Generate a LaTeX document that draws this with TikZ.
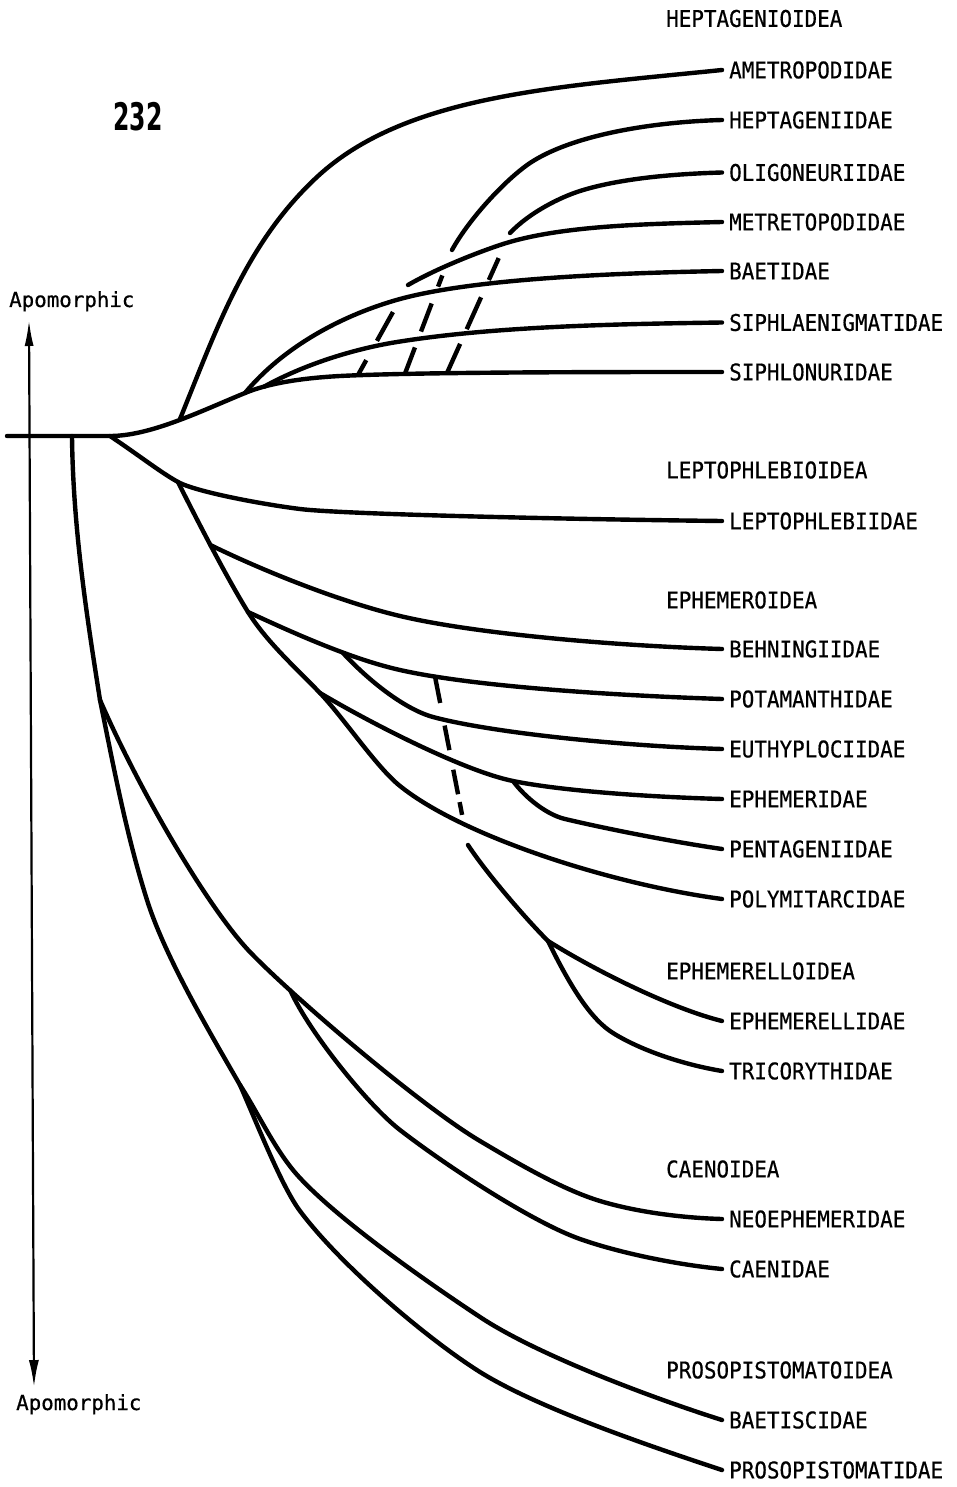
\documentclass[tikz,border=0pt]{standalone}
\usepackage{fontspec}
\usepackage{graphicx}
\usetikzlibrary{arrows.meta}
\newfontfamily\labfont{DejaVu Sans Mono}[FakeBold=0.6]
\newfontfamily\numfont{DejaVu Sans}
\newcommand\tx[1]{\scalebox{1}[1.1]{#1}}
\newcommand\mytaxon[3]{\node[taxon] (#1) at (729,#2) {\tx{#3}}; \coordinate (#1e) at (722,#2);}
\begin{document}
\begin{tikzpicture}[x=1pt,y=-1pt,
  br/.style={line width=4.4pt, line cap=round, line join=round},
  dsh/.style={line width=4.4pt},
  taxon/.style={anchor=west, inner sep=0pt, font=\labfont\fontsize{20.9}{24}\selectfont},
  grp/.style={anchor=west, inner sep=0pt, font=\labfont\fontsize{20.9}{24}\selectfont},
  apo/.style={anchor=base west, inner sep=0pt, font=\labfont\fontsize{20.8}{24}\selectfont},
  axis/.style={line width=2.2pt, {Latex[length=26pt,width=9pt]}-{Latex[length=27pt,width=10pt]}}]
\useasboundingbox (0,0) rectangle (957,1487);

% labels
\node[grp] (g1) at (666,18.5) {\tx{HEPTAGENIOIDEA}};
\mytaxon{amet}{70}{AMETROPODIDAE}
\mytaxon{hept}{120}{HEPTAGENIIDAE}
\mytaxon{olig}{172.5}{OLIGONEURIIDAE}
\mytaxon{metr}{222}{METRETOPODIDAE}
\mytaxon{baet}{271}{BAETIDAE}
\mytaxon{siph}{322.5}{SIPHLAENIGMATIDAE}
\mytaxon{sipn}{372}{SIPHLONURIDAE}
\node[grp] (g2) at (666,470) {\tx{LEPTOPHLEBIOIDEA}};
\mytaxon{lept}{521}{LEPTOPHLEBIIDAE}
\node[grp] (g3) at (666,600) {\tx{EPHEMEROIDEA}};
\mytaxon{behn}{649}{BEHNINGIIDAE}
\mytaxon{pota}{699}{POTAMANTHIDAE}
\mytaxon{euth}{749}{EUTHYPLOCIIDAE}
\mytaxon{ephe}{799}{EPHEMERIDAE}
\mytaxon{pent}{849}{PENTAGENIIDAE}
\mytaxon{poly}{899}{POLYMITARCIDAE}
\node[grp] (g4) at (666,971) {\tx{EPHEMERELLOIDEA}};
\mytaxon{ephl}{1021}{EPHEMERELLIDAE}
\mytaxon{tric}{1071}{TRICORYTHIDAE}
\node[grp] (g5) at (666,1169) {\tx{CAENOIDEA}};
\mytaxon{neoe}{1219}{NEOEPHEMERIDAE}
\mytaxon{caen}{1269}{CAENIDAE}
\node[grp] (g6) at (666,1370) {\tx{PROSOPISTOMATOIDEA}};
\mytaxon{baes}{1420}{BAETISCIDAE}
\mytaxon{pros}{1470}{PROSOPISTOMATIDAE}

\node (fig) at (138,117) {\numfont\bfseries\fontsize{38}{40}\selectfont\scalebox{0.62}[1]{232}};
\node[apo] (apotop) at (9,307) {Apomorphic};
\node[apo] (apobot) at (16,1410) {Apomorphic};

% axis
\coordinate (ax1) at (29,320);
\coordinate (ax2) at (34,1387);
\draw[axis] (ax1) -- (ax2);

% branch points
\coordinate (root0) at (7,436);
\coordinate (root) at (110,436);
\coordinate (h1) at (180,419);
\coordinate (h2) at (245,393);
\coordinate (h3) at (264,386.7);
\coordinate (u1) at (358,375);
\coordinate (u1e) at (408,285);
\coordinate (u2) at (405,373.6);
\coordinate (u2e) at (452,250);
\coordinate (u3) at (447,373);
\coordinate (u3e) at (510,233);
\coordinate (r2) at (72,436);
\coordinate (l1) at (178,482);
\coordinate (e1) at (210.3,545);
\coordinate (e2) at (248,612);
\coordinate (e3) at (343,653);
\coordinate (e4) at (320,693);
\coordinate (e5) at (513,781);
\coordinate (d0) at (435,676.5);
\coordinate (d1) at (468,845);
\coordinate (m1) at (548,941);
\coordinate (c0) at (100,700);
\coordinate (c1) at (290.5,990.7);
\coordinate (p1) at (240,1085);

% Heptagenioidea
\draw[br] (root0) -- (root) .. controls (150,436) and (199,412) .. (h2)
  .. controls (268,383.5) and (300,378.2) .. (340,376)
  .. controls (420,372) and (600,372) .. (sipne);
\draw[br] (h1) .. controls (217,328) and (246,243) .. (317,177)
  .. controls (405,95) and (556,87) .. (amete);
\draw[br] (h2) .. controls (283,347) and (342,315) .. (400,299)
  .. controls (477,278) and (620,273) .. (baete);
\draw[br] (h3) .. controls (303,365) and (353,349) .. (397,342)
  .. controls (496,326) and (620,324) .. (siphe);
\draw[br] (u1e) .. controls (434,270) and (471.5,254.6) .. (500,245)
  .. controls (557,226) and (640,224) .. (metre);
\draw[br] (u2e) .. controls (469,219) and (505,180) .. (530,163)
  .. controls (571.5,135.5) and (650,122) .. (hepte);
\draw[br] (u3e) .. controls (530,212) and (561,197) .. (580,191)
  .. controls (618,179) and (670,174) .. (olige);
\draw[dsh, dash pattern=on 17pt off 22pt on 33pt off 60pt] (u1) -- (u1e);
\draw[dsh, dash pattern=on 28pt off 17pt on 30pt off 18pt on 12pt off 60pt] (u2) -- (u2e);
\draw[dsh, dash pattern=on 32pt off 16pt on 35pt off 19pt on 24pt off 60pt] (u3) -- (u3e);

% Leptophlebioidea + Ephemeroidea
\draw[br] (root) .. controls (140,456) and (160,472) .. (l1)
  .. controls (195,491.5) and (260,504) .. (300,509)
  .. controls (340,514) and (550,519) .. (lepte);
\draw[br] (l1) .. controls (198,522) and (227,578) .. (e2)
  .. controls (266.5,641.75) and (295.8,667.8) .. (e4)
  .. controls (343,717) and (376.6,767.4) .. (400,786)
  .. controls (462,836) and (610,884) .. (polye);
\draw[br] (e1) .. controls (264.6,571.6) and (341.8,602.2) .. (400,616)
  .. controls (477.6,634.4) and (620,646) .. (behne);
\draw[br] (e2) .. controls (293.5,633) and (351,659) .. (400,670)
  .. controls (468,685.4) and (600,695) .. (potae);
\draw[br] (e3) .. controls (368,680) and (404,709) .. (433,717)
  .. controls (491,732.6) and (620,746) .. (euthe);
\draw[br] (e4) .. controls (371.6,723.6) and (464,771) .. (e5)
  .. controls (562,791) and (650,797) .. (ephee);
\draw[br] (e5) .. controls (526,798.6) and (547.5,814.9) .. (565,819)
  .. controls (613.7,830.5) and (680,843) .. (pente);

% Ephemerelloidea
\draw[dsh, dash pattern=on 27pt off 23pt on 25pt off 20pt on 25pt off 8pt on 13pt off 60pt] (d0) -- (d1);
\draw[br] (d1) .. controls (487,874) and (526.7,919.7) .. (m1)
  .. controls (599,972.8) and (673.5,1009) .. (ephle);
\draw[br] (m1) .. controls (572,990) and (591.75,1019.75) .. (613,1033)
  .. controls (638.5,1049) and (680,1064) .. (trice);

% Caenoidea + Prosopistomatoidea
\draw[br] (r2) .. controls (73,530) and (87.6,621) .. (c0)
  .. controls (114,768.6) and (126,833.5) .. (147,900)
  .. controls (165,957) and (210,1032.8) .. (p1)
  .. controls (259,1114.4) and (276,1152.5) .. (300,1178)
  .. controls (341,1222) and (430,1284) .. (480,1317)
  .. controls (538,1355.5) and (655.5,1399) .. (baese);
\draw[br] (c0) .. controls (140,792) and (208.6,908.8) .. (250,952)
  .. controls (291.4,995.2) and (419.8,1105.3) .. (480,1141)
  .. controls (514.4,1161.4) and (561.6,1189.4) .. (600,1201)
  .. controls (638.4,1212.6) and (685,1218) .. (neoee);
\draw[br] (c1) .. controls (309,1032) and (368.4,1105.6) .. (400,1130)
  .. controls (447.4,1166.6) and (533,1222.5) .. (580,1239)
  .. controls (622.3,1253.9) and (680,1265) .. (caene);
\draw[br] (p1) .. controls (258,1126) and (282,1187) .. (300,1211)
  .. controls (342,1267) and (429,1340) .. (480,1372)
  .. controls (539.5,1409) and (655.5,1448) .. (prose);
\end{tikzpicture}
\end{document}
